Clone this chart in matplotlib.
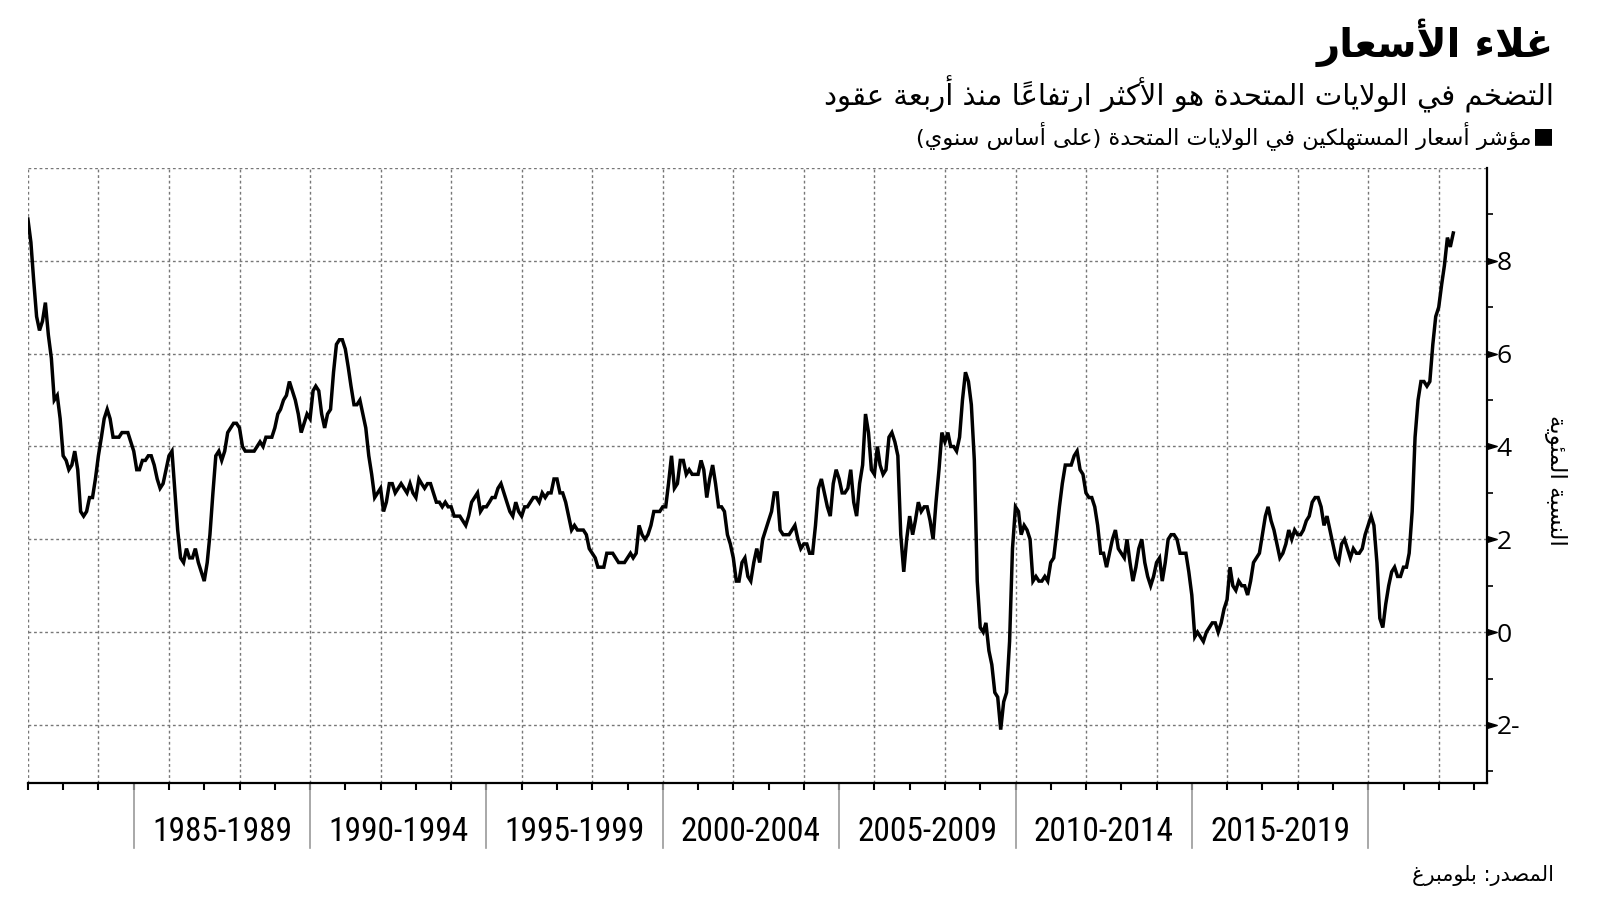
import datetime as dt

import numpy as np
import pandas as pd
import matplotlib
matplotlib.use("Agg")
import matplotlib.pyplot as plt
import matplotlib.dates as mdates
import matplotlib.transforms as mtransforms
from matplotlib.path import Path

# US CPI, year-over-year %, monthly (Dec 1981 .. May 2022)
first_month = "1981-12-31"
cpi_yoy = [
    8.9,
    8.4, 7.6, 6.8, 6.5, 6.7, 7.1, 6.4, 5.9, 5.0, 5.1, 4.6, 3.8,
    3.7, 3.5, 3.6, 3.9, 3.5, 2.6, 2.5, 2.6, 2.9, 2.9, 3.3, 3.8,
    4.2, 4.6, 4.8, 4.6, 4.2, 4.2, 4.2, 4.3, 4.3, 4.3, 4.1, 3.9,
    3.5, 3.5, 3.7, 3.7, 3.8, 3.8, 3.6, 3.3, 3.1, 3.2, 3.5, 3.8,
    3.9, 3.1, 2.2, 1.6, 1.5, 1.8, 1.6, 1.6, 1.8, 1.5, 1.3, 1.1,
    1.5, 2.1, 3.0, 3.8, 3.9, 3.7, 3.9, 4.3, 4.4, 4.5, 4.5, 4.4,
    4.0, 3.9, 3.9, 3.9, 3.9, 4.0, 4.1, 4.0, 4.2, 4.2, 4.2, 4.4,
    4.7, 4.8, 5.0, 5.1, 5.4, 5.2, 5.0, 4.7, 4.3, 4.5, 4.7, 4.6,
    5.2, 5.3, 5.2, 4.7, 4.4, 4.7, 4.8, 5.6, 6.2, 6.3, 6.3, 6.1,
    5.7, 5.3, 4.9, 4.9, 5.0, 4.7, 4.4, 3.8, 3.4, 2.9, 3.0, 3.1,
    2.6, 2.8, 3.2, 3.2, 3.0, 3.1, 3.2, 3.1, 3.0, 3.2, 3.0, 2.9,
    3.3, 3.2, 3.1, 3.2, 3.2, 3.0, 2.8, 2.8, 2.7, 2.8, 2.7, 2.7,
    2.5, 2.5, 2.5, 2.4, 2.3, 2.5, 2.8, 2.9, 3.0, 2.6, 2.7, 2.7,
    2.8, 2.9, 2.9, 3.1, 3.2, 3.0, 2.8, 2.6, 2.5, 2.8, 2.6, 2.5,
    2.7, 2.7, 2.8, 2.9, 2.9, 2.8, 3.0, 2.9, 3.0, 3.0, 3.3, 3.3,
    3.0, 3.0, 2.8, 2.5, 2.2, 2.3, 2.2, 2.2, 2.2, 2.1, 1.8, 1.7,
    1.6, 1.4, 1.4, 1.4, 1.7, 1.7, 1.7, 1.6, 1.5, 1.5, 1.5, 1.6,
    1.7, 1.6, 1.7, 2.3, 2.1, 2.0, 2.1, 2.3, 2.6, 2.6, 2.6, 2.7,
    2.7, 3.2, 3.8, 3.1, 3.2, 3.7, 3.7, 3.4, 3.5, 3.4, 3.4, 3.4,
    3.7, 3.5, 2.9, 3.3, 3.6, 3.2, 2.7, 2.7, 2.6, 2.1, 1.9, 1.6,
    1.1, 1.1, 1.5, 1.6, 1.2, 1.1, 1.5, 1.8, 1.5, 2.0, 2.2, 2.4,
    2.6, 3.0, 3.0, 2.2, 2.1, 2.1, 2.1, 2.2, 2.3, 2.0, 1.8, 1.9,
    1.9, 1.7, 1.7, 2.3, 3.1, 3.3, 3.0, 2.7, 2.5, 3.2, 3.5, 3.3,
    3.0, 3.0, 3.1, 3.5, 2.8, 2.5, 3.2, 3.6, 4.7, 4.3, 3.5, 3.4,
    4.0, 3.6, 3.4, 3.5, 4.2, 4.3, 4.1, 3.8, 2.1, 1.3, 2.0, 2.5,
    2.1, 2.4, 2.8, 2.6, 2.7, 2.7, 2.4, 2.0, 2.8, 3.5, 4.3, 4.1,
    4.3, 4.0, 4.0, 3.9, 4.2, 5.0, 5.6, 5.4, 4.9, 3.7, 1.1, 0.1,
    0.0, 0.2, -0.4, -0.7, -1.3, -1.4, -2.1, -1.5, -1.3, -0.2, 1.8, 2.7,
    2.6, 2.1, 2.3, 2.2, 2.0, 1.1, 1.2, 1.1, 1.1, 1.2, 1.1, 1.5,
    1.6, 2.1, 2.7, 3.2, 3.6, 3.6, 3.6, 3.8, 3.9, 3.5, 3.4, 3.0,
    2.9, 2.9, 2.7, 2.3, 1.7, 1.7, 1.4, 1.7, 2.0, 2.2, 1.8, 1.7,
    1.6, 2.0, 1.5, 1.1, 1.4, 1.8, 2.0, 1.5, 1.2, 1.0, 1.2, 1.5,
    1.6, 1.1, 1.5, 2.0, 2.1, 2.1, 2.0, 1.7, 1.7, 1.7, 1.3, 0.8,
    -0.1, 0.0, -0.1, -0.2, 0.0, 0.1, 0.2, 0.2, 0.0, 0.2, 0.5, 0.7,
    1.4, 1.0, 0.9, 1.1, 1.0, 1.0, 0.8, 1.1, 1.5, 1.6, 1.7, 2.1,
    2.5, 2.7, 2.4, 2.2, 1.9, 1.6, 1.7, 1.9, 2.2, 2.0, 2.2, 2.1,
    2.1, 2.2, 2.4, 2.5, 2.8, 2.9, 2.9, 2.7, 2.3, 2.5, 2.2, 1.9,
    1.6, 1.5, 1.9, 2.0, 1.8, 1.6, 1.8, 1.7, 1.7, 1.8, 2.1, 2.3,
    2.5, 2.3, 1.5, 0.3, 0.1, 0.6, 1.0, 1.3, 1.4, 1.2, 1.2, 1.4,
    1.4, 1.7, 2.6, 4.2, 5.0, 5.4, 5.4, 5.3, 5.4, 6.2, 6.8, 7.0,
    7.5, 7.9, 8.5, 8.3, 8.6,
]

y_major = [-2, 0, 2, 4, 6, 8]
y_minor = [-3, -1, 1, 3, 5, 7, 9]
group_starts = [1985, 1990, 1995, 2000, 2005, 2010, 2015, 2020]
group_labels = ["1985-1989", "1990-1994", "1995-1999", "2000-2004",
                "2005-2009", "2010-2014", "2015-2019"]

title = "غلاء الأسعار"
subtitle = "التضخم في الولايات المتحدة هو الأكثر ارتفاعاً منذ أربعة عقود"
legend_label = "مؤشر أسعار المستهلكين في الولايات المتحدة (على أساس سنوي)"
y_title = "النسبة المئوية"
source = "المصدر: بلومبرغ"

# --- minimal Arabic shaping (matplotlib has no shaping / bidi) ---
FORMS = {
    'ء': (0xFE80, 1), 'آ': (0xFE81, 2), 'أ': (0xFE83, 2), 'ؤ': (0xFE85, 2),
    'إ': (0xFE87, 2), 'ئ': (0xFE89, 4), 'ا': (0xFE8D, 2), 'ب': (0xFE8F, 4),
    'ة': (0xFE93, 2), 'ت': (0xFE95, 4), 'ث': (0xFE99, 4), 'ج': (0xFE9D, 4),
    'ح': (0xFEA1, 4), 'خ': (0xFEA5, 4), 'د': (0xFEA9, 2), 'ذ': (0xFEAB, 2),
    'ر': (0xFEAD, 2), 'ز': (0xFEAF, 2), 'س': (0xFEB1, 4), 'ش': (0xFEB5, 4),
    'ص': (0xFEB9, 4), 'ض': (0xFEBD, 4), 'ط': (0xFEC1, 4), 'ظ': (0xFEC5, 4),
    'ع': (0xFEC9, 4), 'غ': (0xFECD, 4), 'ف': (0xFED1, 4), 'ق': (0xFED5, 4),
    'ك': (0xFED9, 4), 'ل': (0xFEDD, 4), 'م': (0xFEE1, 4), 'ن': (0xFEE5, 4),
    'ه': (0xFEE9, 4), 'و': (0xFEED, 2), 'ى': (0xFEEF, 2), 'ي': (0xFEF1, 4),
}
LAM_ALEF = {'آ': 0xFEF5, 'أ': 0xFEF7, 'إ': 0xFEF9, 'ا': 0xFEFB}
MARKS = set(chr(c) for c in range(0x064B, 0x0653))
MIRROR = {'(': ')', ')': '('}


def shape_ar(text):
    units = []
    i = 0
    while i < len(text):
        ch = text[i]
        if ch in MARKS and units:
            units[-1][2].append(ch)
        elif ch == 'ل' and i + 1 < len(text) and text[i + 1] in LAM_ALEF:
            units.append([LAM_ALEF[text[i + 1]], 2, []])
            i += 1
        elif ch in FORMS:
            base, n = FORMS[ch]
            units.append([base, n, []])
        else:
            units.append([MIRROR.get(ch, ch), 0, []])
        i += 1
    out = []
    for k, (base, n, marks) in enumerate(units):
        if n == 0:
            out.append(base + ''.join(marks))
            continue
        prev_joins = n >= 2 and k > 0 and units[k - 1][1] == 4
        next_joins = n == 4 and k + 1 < len(units) and units[k + 1][1] >= 2
        if prev_joins and next_joins:
            off = 3
        elif next_joins:
            off = 2
        elif prev_joins:
            off = 1
        else:
            off = 0
        out.append(chr(base + off) + ''.join(marks))
    return ''.join(reversed(out))


AR_FONT = ['DejaVu Sans']
NUM_FONT = ['Open Sans', 'DejaVu Sans']
YEAR_FONT = ['Roboto Condensed', 'Liberation Sans', 'DejaVu Sans']

W, H = 1600, 901
fig = plt.figure(figsize=(16, 9.01), dpi=100)
ax = fig.add_axes([28 / W, 1 - 783 / H, (1487 - 28) / W, (783 - 168) / H])

dates = pd.date_range(first_month, periods=len(cpi_yoy), freq='ME')
ax.plot(dates, cpi_yoy, color='black', lw=2.5, solid_joinstyle='miter', zorder=3)

ax.set_xlim(dt.datetime(1982, 1, 1), dt.datetime(2023, 5, 15))
ax.set_ylim(-3.25, 10)

# grid
for yr in range(1982, 2023, 2):
    ax.axvline(dt.datetime(yr, 1, 1), color='#777777', lw=1, ls=(0, (2, 2)), zorder=1)
for v in range(-2, 11, 2):
    ax.axhline(v, color='#777777', lw=1, ls=(0, (2, 2)), zorder=1)

for s in ['left', 'top']:
    ax.spines[s].set_visible(False)
for s in ['right', 'bottom']:
    ax.spines[s].set_linewidth(1.6)
    ax.spines[s].set_color('black')

# x ticks every year
ax.xaxis.set_major_locator(mdates.YearLocator(1))
ax.xaxis.set_major_formatter(plt.NullFormatter())
ax.tick_params(axis='x', which='major', direction='out', length=5, width=1.5, color='black')

# y axis on the right
ax.yaxis.tick_right()
ax.set_yticks(y_major)
ax.set_yticks(y_minor, minor=True)
ax.set_yticklabels([f"{abs(v)}-" if v < 0 else f"{v}" for v in y_major],
                   family=NUM_FONT, fontsize=19)
ax.tick_params(axis='y', which='major', length=0, pad=7)
ax.tick_params(axis='y', which='minor', length=4, width=1.2, color='black')

tri = Path([(0, -0.3), (1, 0), (0, 0.3), (0, -0.3)],
           [Path.MOVETO, Path.LINETO, Path.LINETO, Path.CLOSEPOLY])
yax_tr = mtransforms.blended_transform_factory(ax.transAxes, ax.transData)
ax.plot([1] * len(y_major), y_major, ls='none', marker=tri, markersize=14,
        color='black', transform=yax_tr, clip_on=False, zorder=4)

# group separators and period labels below the axis
xax_tr = mtransforms.blended_transform_factory(ax.transData, ax.transAxes)
for yr in group_starts:
    x = mdates.date2num(dt.datetime(yr, 1, 1))
    ax.plot([x, x], [0, -65 / 615], color='#9a9a9a', lw=1.2,
            transform=xax_tr, clip_on=False)
for yr, lab in zip(group_starts[:-1], group_labels):
    xm = mdates.date2num(dt.datetime(yr, 1, 1)) + 2.5 * 365.25
    ax.text(xm, -49 / 615, lab, transform=xax_tr, ha='center', va='center',
            fontsize=24, family=YEAR_FONT)

# titles and notes (right aligned)
xr = 1554 / W
fig.text(xr, 1 - 43 / H, shape_ar(title), ha='right', va='center',
         fontsize=29, fontweight='bold', family=AR_FONT)
fig.text(xr, 1 - 94 / H, shape_ar(subtitle), ha='right', va='center',
         fontsize=21, family=AR_FONT)
fig.text(xr, 1 - 136 / H, "\u25A0", ha='right', va='center',
         fontsize=16, family=['DejaVu Sans'])
fig.text(1531 / W, 1 - 136 / H, shape_ar(legend_label), ha='right', va='center',
         fontsize=16.2, family=AR_FONT)
fig.text(1556 / W, 1 - 480 / H, shape_ar(y_title), ha='center', va='center',
         rotation=-90, fontsize=16.5, family=AR_FONT)
fig.text(xr, 1 - 875 / H, shape_ar(source), ha='right', va='center',
         fontsize=15, family=AR_FONT)

fig.savefig('out.png', dpi=100)
